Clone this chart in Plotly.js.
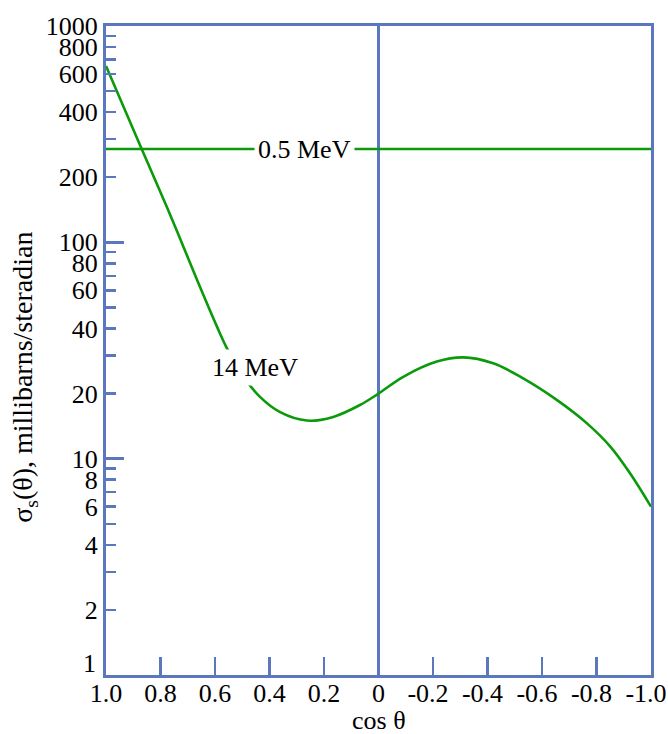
<!DOCTYPE html>
<html>
<head>
<meta charset="utf-8">
<script src="https://cdn.plot.ly/plotly-3.0.1.min.js"></script>
<style>html,body{margin:0;padding:0;background:#fff;}</style>
</head>
<body>
<div id="chart" style="width:668px;height:734px;"></div>
<script>
// cos(theta) values and cross sections (mb/sr)
const cosLow = [1.0, -1.0];
const sigmaLow = [270, 270]; // 0.5 MeV, isotropic

const cosHigh = [1.0, 0.869, 0.777, 0.716, 0.655, 0.594, 0.553, 0.490, 0.435, 0.361, 0.263, 0.166, 0.068, 0.0,
                 -0.091, -0.214, -0.311, -0.421, -0.531, -0.654, -0.764, -0.850, -0.923, -1.0];
const sigmaHigh = [654, 270, 146, 95.5, 62.2, 41.1, 31.8, 23.4, 19.3, 16.4, 15.0, 15.6, 17.7, 20.0,
                   23.9, 28.1, 29.4, 27.6, 23.5, 18.7, 14.6, 11.4, 8.56, 6.0];

const xTickValsPos = [1.0, 0.8, 0.6, 0.4, 0.2, 0];
const xTickTextPos = ['1.0', '0.8', '0.6', '0.4', '0.2', '0'];
const xTickValsNeg = [-0.2, -0.4, -0.6, -0.8, -1.0];
const xTickTextNeg = ['-0.2', '-0.4', '-0.6', '-0.8', '-1.0'];

const yTickVals = [1,2,3,4,5,6,7,8,9,10,20,30,40,50,60,70,80,90,100,200,300,400,500,600,700,800,900,1000];
const yTickText = ['', '2', '', '4', '', '6', '', '8', '', '10', '20', '', '40', '', '60', '', '80', '', '100',
                   '200', '', '400', '', '600', '', '800', '', '1000'];
const yMajorVals = [10, 100];

const blue = '#5b77bd';
const green = '#0a9a0a';
const fontFam = 'Liberation Serif, Times New Roman, serif';
const tf = {family: fontFam, size: 26, color: '#000'};

const traces = [
  {x: cosLow, y: sigmaLow, type: 'scatter', mode: 'lines', line: {color: green, width: 2.6}, hoverinfo: 'skip'},
  {x: cosHigh, y: sigmaHigh, type: 'scatter', mode: 'lines', line: {color: green, width: 2.6, shape: 'spline', smoothing: 1}, hoverinfo: 'skip'},
  // empty traces so the overlay axes are drawn
  {x: [], y: [], yaxis: 'y2', type: 'scatter', mode: 'lines', hoverinfo: 'skip'},
  {x: [], y: [], xaxis: 'x2', type: 'scatter', mode: 'lines', hoverinfo: 'skip'},
  {x: [], y: [], xaxis: 'x3', type: 'scatter', mode: 'lines', hoverinfo: 'skip'}
];

const labelAxis = (vals, text, shift) => ({
  range: [1, -1], autorange: false,
  overlaying: 'x', anchor: 'y', side: 'bottom',
  tickmode: 'array', tickvals: vals, ticktext: text,
  ticks: '', showline: false, showgrid: false, zeroline: false,
  ticklabeloverflow: 'allow', ticklabelshift: shift,
  tickfont: tf
});

const layout = {
  width: 668, height: 734,
  margin: {l: 106, r: 17, t: 26, b: 59},
  paper_bgcolor: '#fff', plot_bgcolor: '#fff',
  showlegend: false,
  font: tf,
  xaxis: {
    range: [1, -1], autorange: false,
    tickmode: 'array', tickvals: xTickValsPos.concat(xTickValsNeg),
    ticks: 'inside', ticklen: 18, tickwidth: 2.5, tickcolor: blue,
    showline: true, linecolor: blue, linewidth: 3, mirror: true,
    showgrid: false, zeroline: true, zerolinecolor: blue, zerolinewidth: 2.5,
    showticklabels: false
  },
  xaxis2: labelAxis(xTickValsPos, xTickTextPos, 0),
  xaxis3: labelAxis(xTickValsNeg, xTickTextNeg, 5),
  yaxis: {
    type: 'log', range: [0, 3], autorange: false,
    tickmode: 'array', tickvals: yTickVals, ticktext: yTickText,
    ticks: 'inside', ticklen: 10, tickwidth: 2.5, tickcolor: blue,
    showline: true, linecolor: blue, linewidth: 3, mirror: true,
    showgrid: false, zeroline: false,
    ticklabeloverflow: 'allow',
    tickfont: tf
  },
  yaxis2: {
    type: 'log', range: [0, 3], autorange: false,
    overlaying: 'y', anchor: 'x', side: 'left',
    tickmode: 'array', tickvals: yMajorVals,
    ticks: 'inside', ticklen: 18, tickwidth: 2.5, tickcolor: blue,
    showline: false, showgrid: false, zeroline: false, showticklabels: false
  },
  annotations: [
    {x: 0.27, y: Math.log10(270), xref: 'x', yref: 'y', text: '0.5 MeV', showarrow: false,
     bgcolor: '#fff', borderpad: 3, font: tf},
    {x: 0.453, y: Math.log10(26.5), xref: 'x', yref: 'y', text: '14 MeV', showarrow: false,
     bgcolor: '#fff', borderpad: 3, font: tf},
    {x: 0, y: 0, xref: 'paper', yref: 'y', text: '1', showarrow: false, xanchor: 'right', yanchor: 'middle',
     xshift: -8, yshift: 12, font: tf},
    {x: 0.5, y: 0, xref: 'paper', yref: 'paper', text: 'cos θ', showarrow: false, borderpad: 0,
     xanchor: 'center', yanchor: 'middle', yshift: -45, font: tf},
    {x: 0, y: 0.458, xref: 'paper', yref: 'paper', text: 'σ<sub>s</sub>(θ), millibarns/steradian', showarrow: false,
     textangle: -90, xanchor: 'center', yanchor: 'middle', xshift: -81,
     font: {family: fontFam, size: 28, color: '#000'}}
  ]
};

Plotly.newPlot('chart', traces, layout, {staticPlot: true, displayModeBar: false});
</script>
</body>
</html>
